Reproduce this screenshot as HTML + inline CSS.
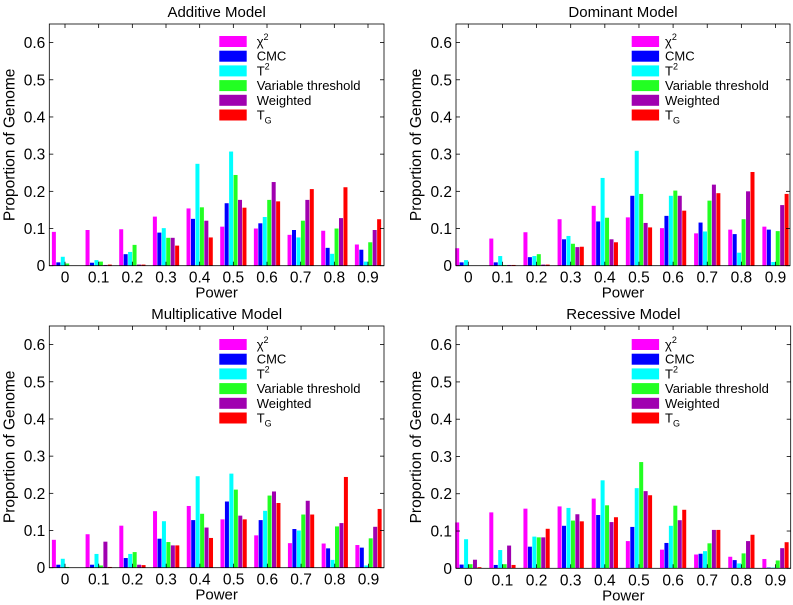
<!DOCTYPE html>
<html><head><meta charset="utf-8"><style>
body{margin:0;background:#fff;}
svg{display:block;font-family:"Liberation Sans",Arial,sans-serif;}
</style></head><body>
<svg id="fig" width="793" height="605" viewBox="0 0 793 605" xmlns="http://www.w3.org/2000/svg"></svg>
<script>
const categories = ["0","0.1","0.2","0.3","0.4","0.5","0.6","0.7","0.8","0.9"];
const seriesNames = ["chi2","CMC","T2","Variable threshold","Weighted","TG"];
const seriesColors = ["#ff00ff","#0000ff","#00ffff","#22ff22","#a000b0","#ff0000"];
const yTicks = [0,0.1,0.2,0.3,0.4,0.5,0.6];
const yTickLabels = ["0","0.1","0.2","0.3","0.4","0.5","0.6"];

const additiveValues = [
 [0.091,0.096,0.098,0.132,0.154,0.105,0.100,0.083,0.094,0.057],
 [0.009,0.008,0.031,0.089,0.126,0.168,0.114,0.096,0.048,0.043],
 [0.024,0.015,0.037,0.101,0.274,0.307,0.131,0.076,0.032,0.011],
 [0.006,0.011,0.056,0.075,0.157,0.244,0.177,0.121,0.100,0.063],
 [0.000,0.002,0.003,0.075,0.121,0.177,0.225,0.177,0.128,0.096],
 [0.000,0.003,0.003,0.054,0.076,0.156,0.173,0.206,0.211,0.125]];
const dominantValues = [
 [0.047,0.073,0.090,0.125,0.161,0.130,0.101,0.087,0.097,0.105],
 [0.009,0.009,0.023,0.071,0.119,0.188,0.134,0.116,0.085,0.097],
 [0.015,0.026,0.026,0.080,0.236,0.309,0.188,0.092,0.035,0.010],
 [0.000,0.002,0.031,0.059,0.129,0.193,0.202,0.175,0.125,0.093],
 [0.000,0.002,0.003,0.050,0.071,0.115,0.188,0.218,0.200,0.163],
 [0.000,0.002,0.003,0.051,0.063,0.103,0.148,0.195,0.252,0.193]];
const multiplicativeValues = [
 [0.075,0.090,0.113,0.152,0.166,0.130,0.087,0.066,0.065,0.061],
 [0.008,0.008,0.026,0.078,0.128,0.178,0.128,0.104,0.052,0.054],
 [0.024,0.037,0.037,0.125,0.246,0.253,0.153,0.100,0.021,0.006],
 [0.002,0.006,0.042,0.069,0.145,0.210,0.194,0.143,0.111,0.079],
 [0.000,0.070,0.008,0.060,0.108,0.140,0.205,0.180,0.120,0.110],
 [0.000,0.002,0.007,0.060,0.080,0.130,0.174,0.143,0.244,0.158]];
const recessiveValues = [
 [0.123,0.150,0.160,0.166,0.187,0.073,0.050,0.037,0.031,0.025],
 [0.010,0.009,0.058,0.114,0.143,0.111,0.068,0.039,0.022,0.002],
 [0.078,0.049,0.085,0.162,0.236,0.215,0.114,0.046,0.013,0.002],
 [0.011,0.011,0.083,0.128,0.169,0.285,0.168,0.067,0.040,0.021],
 [0.023,0.061,0.083,0.145,0.124,0.207,0.129,0.103,0.073,0.054],
 [0.003,0.009,0.106,0.126,0.137,0.196,0.157,0.103,0.090,0.070]];

const panels = [
 {name:"additive",title:"Additive Model",data:additiveValues,L:49.3,R:384,T:24,B:265.7,x0:65,x9:368,legX:219.3,legText:256.7,legY:40},
 {name:"dominant",title:"Dominant Model",data:dominantValues,L:456,R:790,T:24,B:265.7,x0:468.3,x9:775.5,legX:631.7,legText:665,legY:40},
 {name:"multiplicative",title:"Multiplicative Model",data:multiplicativeValues,L:49.3,R:384,T:326,B:567.7,x0:65,x9:368.5,legX:219.3,legText:256.7,legY:343},
 {name:"recessive",title:"Recessive Model",data:recessiveValues,L:456,R:790.7,T:326,B:568.3,x0:468.3,x9:775.5,legX:631.7,legText:665,legY:343}
];
const NS="http://www.w3.org/2000/svg";
const svg=document.getElementById('fig');
function mk(tag,attrs,parent,text){const e=document.createElementNS(NS,tag);for(const k in attrs)e.setAttribute(k,attrs[k]);if(text!==undefined)e.textContent=text;(parent||svg).appendChild(e);return e;}

panels.forEach(p=>{
 const g=mk('g',{});
 
 
 const ymax=0.65;
 const ys=v=>p.B-(v/ymax)*(p.B-p.T);
 const step=(p.x9-p.x0)/9;
 const xs=i=>p.x0+i*step;
 const bw=4.0, bstep=4.45;
 p.data.forEach((ser,si)=>{
  ser.forEach((v,ci)=>{
   const x=xs(ci)+(si-2.5)*bstep-bw/2;
   const r=mk('rect',{x:x,y:ys(v),width:bw,height:Math.max(0,p.B-ys(v)),fill:seriesColors[si]},g);
   
   
  });
 });
 const box=mk('rect',{x:p.L,y:p.T,width:p.R-p.L,height:p.B-p.T,fill:'none',stroke:'#000','stroke-width':0.8},g);
 
 
 yTicks.forEach((t,i)=>{
  const y=ys(t);
  mk('line',{x1:p.L,x2:p.L+4,y1:y,y2:y,stroke:'#000','stroke-width':0.8},g);
  mk('line',{x1:p.R,x2:p.R-4,y1:y,y2:y,stroke:'#000','stroke-width':0.8},g);
  const tl=mk('text',{x:p.L-4,y:y+5.5,'text-anchor':'end','font-size':15.5},g,yTickLabels[i]);
  
  
 });
 categories.forEach((c,i)=>{
  const x=xs(i);
  mk('line',{x1:x,x2:x,y1:p.B,y2:p.B-4,stroke:'#000','stroke-width':0.8},g);
  mk('line',{x1:x,x2:x,y1:p.T,y2:p.T+4,stroke:'#000','stroke-width':0.8},g);
  const tl=mk('text',{x:x,y:p.B+17,'text-anchor':'middle','font-size':15.5},g,c);
  
  
 });
 const cx=(p.L+p.R)/2;
 const tt=mk('text',{x:cx,y:p.T-7,'text-anchor':'middle','font-size':15},g,p.title);
 
 
 const xt=mk('text',{x:cx,y:p.B+32,'text-anchor':'middle','font-size':15},g,'Power');
 
 
 const ycy=(p.T+p.B)/2, ycx=p.L-35;
 const yt=mk('text',{x:ycx,y:ycy,'text-anchor':'middle','font-size':15.5,transform:`rotate(-90 ${ycx} ${ycy})`},g,'Proportion of Genome');
 
 
 const labels=[['χ','2','sup'],['CMC'],['T','2','sup'],['Variable threshold'],['Weighted'],['T','G','sub']];
 labels.forEach((lb,i)=>{
  const y=p.legY+i*14.7;
  const le=mk('g',{},g);
  
  
  mk('rect',{x:p.legX,y:y-4,width:27.4,height:11,fill:seriesColors[i]},le);
  const t=mk('text',{x:p.legText,y:y+6,'font-size':13},le,lb[0]);
  if(lb[1]){mk('tspan',{'font-size':9,dy:lb[2]==='sup'?-6:4},t,lb[1]);}
 });
});
</script>
</body></html>
